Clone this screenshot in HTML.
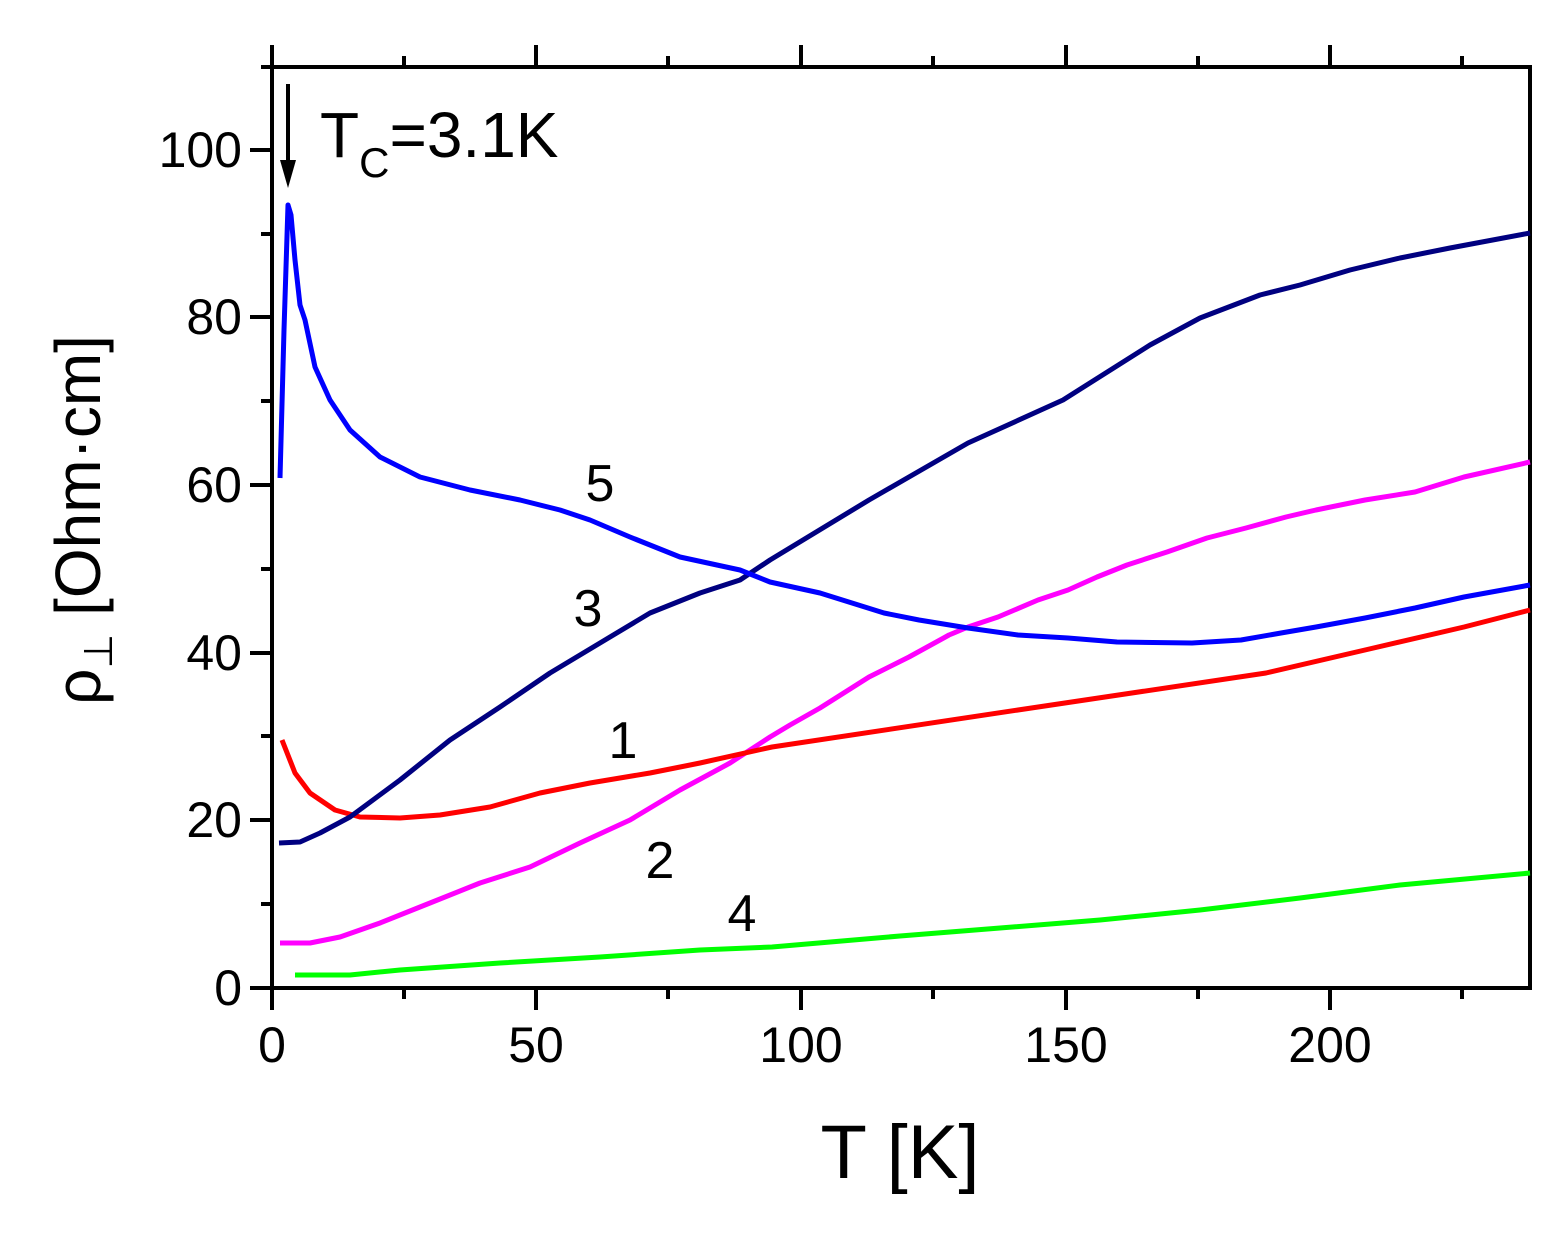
<!DOCTYPE html><html><head><style>body{margin:0;background:#fff}</style></head><body>
<svg width="1561" height="1230" xmlns="http://www.w3.org/2000/svg" font-family="Liberation Sans, Arial, sans-serif">
<rect width="1561" height="1230" fill="#fff"/>
<g stroke="#000" stroke-width="4" fill="none">
<rect x="272" y="67" width="1258" height="921"/>
<path d="M272 988v22M536 988v22M801 988v22M1066 988v22M1330 988v22M404 988v11M668 988v11M933 988v11M1198 988v11M1462 988v11
M272 67v-22M536 67v-22M801 67v-22M1066 67v-22M1330 67v-22M404 67v-11M668 67v-11M933 67v-11M1198 67v-11M1462 67v-11
M272 988h-22M272 820h-22M272 653h-22M272 485h-22M272 317h-22M272 150h-22M272 904h-11M272 736h-11M272 569h-11M272 401h-11M272 234h-11M272 67h-11"/>
</g>
<g font-size="50" text-anchor="middle" fill="#000">
<text x="272" y="1062">0</text><text x="536" y="1062">50</text><text x="801" y="1062">100</text><text x="1066" y="1062">150</text><text x="1330" y="1062">200</text>
</g>
<g font-size="50" text-anchor="end" fill="#000">
<text x="242" y="1005">0</text><text x="242" y="837">20</text><text x="242" y="670">40</text><text x="242" y="502">60</text><text x="242" y="334">80</text><text x="242" y="167">100</text>
</g>
<text x="900" y="1178" font-size="76" text-anchor="middle">T [K]</text>
<text transform="translate(100,520) rotate(-90)" font-size="64" text-anchor="middle">ρ<tspan font-size="40" dy="12">⊥</tspan><tspan dy="-12"> [Ohm·cm]</tspan></text>
<text x="320" y="157" font-size="64">T<tspan font-size="42" dy="20">C</tspan><tspan dy="-20">=3.1K</tspan></text>
<path d="M288 84V170" stroke="#000" stroke-width="4"/><path d="M280 160L288 188L296 160Z" fill="#000"/>
<g fill="none" stroke-width="5" stroke-linejoin="round">
<polyline stroke="#00ff00" points="295,975 350,975 400,970 500,963 600,957 700,950 772,947 900,936 1000,928 1100,920 1200,910 1300,898 1400,885 1530,873"/>
<polyline stroke="#ff00ff" points="280,943 310,943 340,937 380,923 430,903 480,883 530,867 580,843 630,820 680,790 730,763 770,737 790,725 820,708 869,677 909,657 949,635 968,627 998,617 1038,600 1068,590 1097,577 1127,565 1167,552 1207,538 1246,528 1286,517 1316,510 1365,500 1415,492 1464,477 1530,462"/>
<polyline stroke="#ff0000" points="282,740 295,773 310,793 335,810 360,817 400,818 440,815 490,807 540,793 590,783 650,773 700,763 772,747 1018,710 1266,673 1365,650 1464,627 1530,610"/>
<polyline stroke="#000080" points="279,843 300,842 320,833 350,817 400,780 450,740 500,707 550,673 600,643 650,613 700,593 740,580 770,560 869,500 968,443 1063,400 1150,345 1200,318 1260,295 1300,285 1350,270 1400,258 1450,248 1530,233"/>
<polyline stroke="#0000ff" points="280,478 284,330 288,205 291,215 295,260 300,305 305,320 315,367 330,400 350,430 380,457 420,477 470,490 520,500 560,510 590,520 630,537 680,557 740,570 770,582 820,593 884,613 919,620 968,628 1018,635 1068,638 1117,642 1192,643 1241,640 1281,633 1316,627 1365,618 1415,608 1464,597 1530,585"/>
</g>
<g font-size="52" text-anchor="middle" fill="#000">
<text x="600" y="501">5</text><text x="588" y="626">3</text><text x="623" y="758">1</text><text x="660" y="878">2</text><text x="742" y="931">4</text>
</g>
</svg></body></html>
